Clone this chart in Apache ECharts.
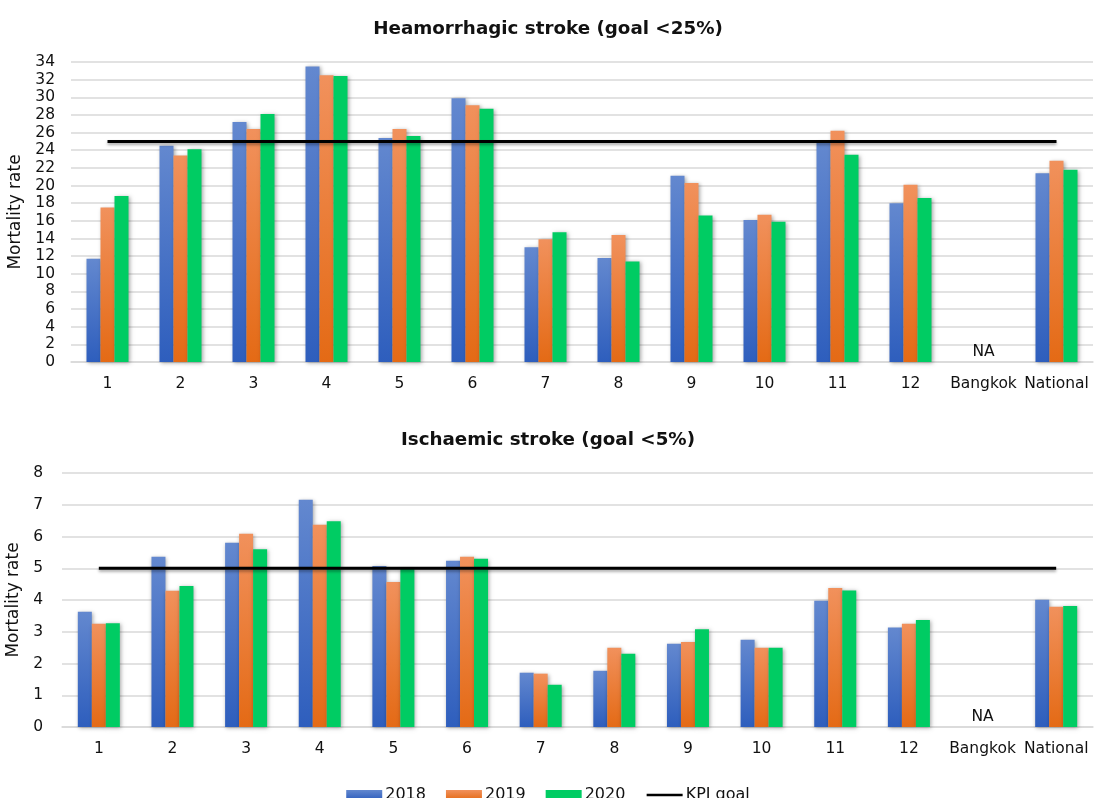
<!DOCTYPE html>
<html><head><meta charset="utf-8">
<script src="https://cdn.jsdelivr.net/npm/echarts@6/dist/echarts.min.js"></script>
<style>html,body{margin:0;padding:0;background:#fff}#c{width:1096px;height:798px}</style>
</head><body><div id="c"></div>
<script>
const categories = ['1','2','3','4','5','6','7','8','9','10','11','12','Bangkok','National'];
const yearNames = ['2018','2019','2020'];
const hem2018 = [11.7,24.5,27.2,33.5,25.4,29.9,13.0,11.8,21.1,16.1,24.9,18.0,null,21.4];
const hem2019 = [17.5,23.4,26.4,32.5,26.4,29.1,13.9,14.4,20.3,16.7,26.2,20.1,null,22.8];
const hem2020 = [18.8,24.1,28.1,32.4,25.6,28.7,14.7,11.4,16.6,15.9,23.5,18.6,null,21.8];
const hemGoal = [25,25,25,25,25,25,25,25,25,25,25,25,25,25];
const isc2018 = [3.63,5.36,5.80,7.16,5.07,5.24,1.71,1.77,2.62,2.75,3.98,3.13,null,4.01];
const isc2019 = [3.25,4.29,6.09,6.37,4.57,5.36,1.68,2.50,2.68,2.50,4.38,3.25,null,3.79];
const isc2020 = [3.27,4.44,5.60,6.48,4.98,5.30,1.33,2.31,3.08,2.50,4.30,3.37,null,3.81];
const iscGoal = [5,5,5,5,5,5,5,5,5,5,5,5,5,5];
const hemTicks = {min:0, max:34, interval:2};
const iscTicks = {min:0, max:8, interval:1};

const FONT = 'DejaVu Sans';
const grad = (top, bottom) => new echarts.graphic.LinearGradient(0,0,0,1,[{offset:0,color:top},{offset:1,color:bottom}]);
const colors = [grad('#6388cf','#2e5ebd'), grad('#f1915c','#e46a15'), '#00cc63'];
const legendColors = [grad('#6388cf','#2e5ebd'), grad('#f1915c','#e46a15'), '#00cc63'];

function barData(arr, showNA){
  return arr.map(v => v === null ? (showNA ? {value:0, label:{show:true, formatter:'NA', position:'top', distance:2, color:'#111', fontSize:15.5, fontFamily:FONT}} : null) : v);
}
const series = [];
const sets = [[hem2018,hem2019,hem2020,hemGoal],[isc2018,isc2019,isc2020,iscGoal]];
sets.forEach((s, gi) => {
  for (let i=0;i<3;i++){
    series.push({
      type:'bar', name:yearNames[i], xAxisIndex:gi, yAxisIndex:gi,
      data: barData(s[i], i===1),
      barWidth:14, barGap:'0%',
      itemStyle:{color:colors[i], shadowColor:'rgba(0,0,0,0.35)', shadowBlur:4, shadowOffsetX:1, shadowOffsetY:1},
      emphasis:{disabled:true}
    });
  }
  series.push({
    type:'line', name:'KPI goal', xAxisIndex:gi, yAxisIndex:gi, data:s[3],
    symbol:'none', z:5,
    lineStyle:{color:'#000', width:3, shadowColor:'rgba(0,0,0,0.35)', shadowBlur:3, shadowOffsetY:2},
    itemStyle:{color:'#000'}
  });
});

function xAxis(gi){
  return {type:'category', gridIndex:gi, data:categories, boundaryGap:true,
    axisLine:{show:true, lineStyle:{color:'#d9d9d9', width:1.5}}, axisTick:{show:false},
    axisLabel:{color:'#111', fontSize:15.5, fontFamily:FONT, margin:14, interval:0}};
}
function yAxis(gi, t, gap, margin){
  return {type:'value', gridIndex:gi, min:t.min, max:t.max, interval:t.interval,
    name:'Mortality rate', nameLocation:'middle', nameGap:gap, nameRotate:90,
    nameTextStyle:{color:'#111', fontSize:17, fontFamily:FONT},
    axisLine:{show:false}, axisTick:{show:false},
    axisLabel:{color:'#111', fontSize:15.5, fontFamily:FONT, margin:margin},
    splitLine:{lineStyle:{color:'#d9d9d9', width:1.5}}};
}

const chart = echarts.init(document.getElementById('c'), null, {renderer:'canvas'});
chart.setOption({
  animation:false,
  backgroundColor:'#fff',
  title:[
    {text:'Heamorrhagic stroke (goal <25%)', left:'center', top:15, textStyle:{fontSize:18.3, fontWeight:'bold', color:'#111', fontFamily:FONT}},
    {text:'Ischaemic stroke (goal <5%)', left:'center', top:426, textStyle:{fontSize:18.3, fontWeight:'bold', color:'#111', fontFamily:FONT}}
  ],
  legend:{
    data:[
      {name:'2018', icon:'rect', itemStyle:{color:legendColors[0]}},
      {name:'2019', icon:'rect', itemStyle:{color:legendColors[1]}},
      {name:'2020', icon:'rect', itemStyle:{color:legendColors[2]}},
      {name:'KPI goal', itemStyle:{opacity:0}, lineStyle:{color:'#000', width:2.5}}
    ],
    left:'center', top:782, itemWidth:36, itemHeight:10, itemGap:20,
    textStyle:{color:'#111', fontSize:16, fontFamily:FONT, padding:[0,0,0,-2]}
  },
  grid:[
    {left:71, right:3, top:62, height:300, outerBoundsMode:'none', containLabel:false},
    {left:62, right:3, top:473, height:254, outerBoundsMode:'none', containLabel:false}
  ],
  xAxis:[xAxis(0), xAxis(1)],
  yAxis:[yAxis(0, hemTicks, 45, 16), yAxis(1, iscTicks, 36, 19)],
  series:series
});
</script>
</body></html>
